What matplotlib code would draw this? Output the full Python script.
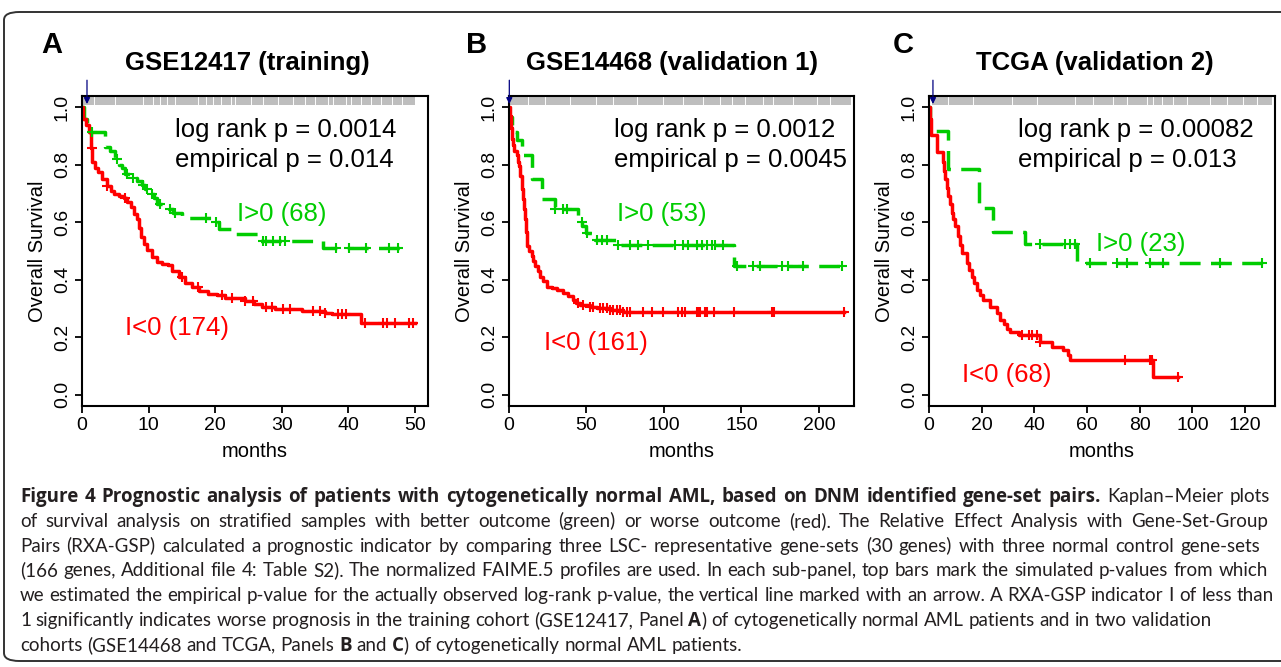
import numpy as np
import matplotlib
matplotlib.use('Agg')
import matplotlib.pyplot as plt
from matplotlib.patches import FancyBboxPatch

plt.rcParams['font.family'] = ['Liberation Sans', 'DejaVu Sans']

# ---- data ----
titles = ['GSE12417 (training)', 'GSE14468 (validation 1)', 'TCGA (validation 2)']
letters = ['A', 'B', 'C']
logrank_p = ['0.0014', '0.0012', '0.00082']
empirical_p = ['0.014', '0.0045', '0.013']
n_good = [68, 53, 23]
n_bad = [174, 161, 68]
xticks = [[0, 10, 20, 30, 40, 50], [0, 50, 100, 150, 200], [0, 20, 40, 60, 80, 100, 120]]
yticks = [0.0, 0.2, 0.4, 0.6, 0.8, 1.0]
observed_t = [0.75, 0.2, 1.5]   # where the arrow points (months)

# panel A  (GSE12417)
a_red_t = [0, 0.2, 0.6, 1.0, 1.3, 1.5, 2.0, 2.4, 3.0, 3.7, 4.3, 4.8, 5.5, 6.3, 6.8, 7.3, 7.8,
           8.2, 8.5, 8.8, 9.3, 9.8, 10.5, 11.2, 12.0, 12.9, 13.5, 14.6, 15.5, 16.5, 17.6,
           19.0, 20.3, 21.5, 24.5, 25.8, 27.0, 29.0, 33.0, 36.5, 37.5, 41.9, 50.0]
a_red_s = [1.0, 0.96, 0.94, 0.915, 0.86, 0.81, 0.79, 0.775, 0.75, 0.727, 0.71, 0.70, 0.69,
           0.685, 0.67, 0.655, 0.63, 0.61, 0.58, 0.55, 0.525, 0.505, 0.48, 0.46, 0.455, 0.45,
           0.43, 0.41, 0.39, 0.375, 0.36, 0.35, 0.345, 0.335, 0.325, 0.315, 0.305, 0.298,
           0.292, 0.285, 0.28, 0.25, 0.25]
a_red_cens = [1.45, 3.7, 6.5, 15.0, 17.5, 21.0, 22.5, 24.5, 25.7, 27.7, 28.5, 30.2, 31.2, 34.7,
              35.7, 36.5, 38.5, 39.0, 39.7, 42.5, 45.2, 45.8, 47.0, 49.2, 49.7]
a_grn_t = [0, 0.3, 0.7, 3.45, 4.2, 4.9, 5.5, 6.0, 6.5, 7.5, 8.2, 9.0, 9.5, 10.3, 10.8, 11.3,
           13.0, 13.7, 15.0, 20.0, 20.6, 23.2, 26.5, 36.2, 48.0]
a_grn_s = [1.0, 0.96, 0.915, 0.862, 0.85, 0.82, 0.80, 0.79, 0.768, 0.755, 0.745, 0.73, 0.716,
           0.70, 0.686, 0.663, 0.645, 0.634, 0.616, 0.60, 0.575, 0.558, 0.535, 0.511, 0.511]
a_grn_cens = [1.45, 5.2, 6.7, 7.7, 9.2, 9.7, 10.5, 11.7, 13.2, 14.0, 18.7, 20.2, 27.2, 27.7,
              28.7, 29.7, 30.5, 38.2, 40.2, 42.7, 46.2, 47.5]
a_gaps = [0.035, 0.10, 0.184, 0.214, 0.234, 0.254, 0.279, 0.349, 0.374, 0.394, 0.419, 0.449,
          0.459, 0.509, 0.544, 0.589, 0.634, 0.669, 0.699, 0.738, 0.753, 0.793, 0.808, 0.838,
          0.868, 0.898, 0.933, 0.963]

# panel B  (GSE14468)
b_red_t = [0, 0.6, 1.0, 1.7, 2.4, 3.5, 5.0, 6.0, 6.6, 7.4, 8.2, 9.0, 9.6, 10.3, 11.0, 11.8,
           13.0, 14.6, 15.5, 16.8, 18.5, 20.0, 22.0, 24.3, 27.5, 30.8, 35.0, 38.0, 41.5, 43.5,
           45.8, 52.0, 56.6, 65.0, 73.7, 76.0, 215.9]
b_red_s = [1.0, 0.97, 0.93, 0.89, 0.868, 0.85, 0.833, 0.81, 0.797, 0.76, 0.716, 0.68, 0.645,
           0.61, 0.565, 0.517, 0.50, 0.482, 0.465, 0.447, 0.43, 0.411, 0.395, 0.376, 0.37,
           0.365, 0.353, 0.343, 0.33, 0.32, 0.312, 0.305, 0.30, 0.295, 0.289, 0.286, 0.286]
b_red_cens = [44.7, 47.9, 52.2, 54.4, 58.7, 60.9, 63.0, 65.2, 67.3, 69.5, 71.6, 73.8, 75.9,
              78.1, 86.7, 92.1, 99.6, 109.3, 111.5, 113.7, 121.2, 122.3, 123.4, 126.6, 127.7,
              132.0, 144.9, 169.7, 170.8, 215.9]
b_grn_t = [0, 0.3, 2.0, 2.8, 5.0, 8.2, 14.6, 21.1, 29.6, 44.7, 47.0, 50.0, 55.5, 69.5, 145.2,
           215.9]
b_grn_s = [1.0, 0.967, 0.94, 0.915, 0.886, 0.833, 0.751, 0.68, 0.646, 0.60, 0.587, 0.563,
           0.54, 0.52, 0.447, 0.447]
b_grn_cens = [29.7, 35.0, 37.2, 46.9, 50.1, 56.6, 59.8, 63.0, 70.5, 78.1, 83.4, 89.9, 107.1,
              112.5, 115.7, 121.1, 124.3, 127.5, 130.8, 132.9, 138.3, 146.9, 157.6, 161.9,
              175.9, 180.2, 189.9, 214.6]
b_gaps = [0.054, 0.103, 0.176, 0.254, 0.303, 0.372, 0.45, 0.509, 0.567, 0.616, 0.651, 0.69,
          0.744, 0.773, 0.832, 0.9, 0.939]

# panel C  (TCGA)
c_red_t = [0, 0.3, 0.6, 2.9, 5.4, 5.8, 6.1, 6.7, 7.3, 8.0, 8.6, 9.3, 9.9, 11.1, 11.8, 12.4,
           14.3, 15.2, 16.2, 17.2, 18.1, 19.5, 20.6, 23.2, 25.7, 27.0, 28.3, 29.5, 30.8, 34.0,
           42.2, 46.6, 51.0, 52.9, 53.6, 85.2, 94.7]
c_red_s = [1.0, 0.96, 0.903, 0.844, 0.809, 0.78, 0.75, 0.72, 0.692, 0.663, 0.634, 0.61, 0.587,
           0.552, 0.52, 0.493, 0.458, 0.435, 0.411, 0.388, 0.365, 0.347, 0.33, 0.306, 0.283,
           0.26, 0.245, 0.23, 0.219, 0.207, 0.184, 0.166, 0.154, 0.137, 0.12, 0.06, 0.06]
c_red_cens = [35.2, 37.8, 39.0, 40.9, 42.2, 74.4, 83.9, 84.6, 94.7]
c_grn_t = [0, 0.4, 7.4, 18.8, 24.4, 36.5, 56.1, 127.0]
c_grn_s = [1.0, 0.917, 0.786, 0.651, 0.566, 0.523, 0.458, 0.458]
c_grn_cens = [42.2, 51.7, 53.6, 55.4, 61.1, 71.3, 75.1, 83.9, 89.0, 110.5, 126.4]
c_gaps = [0.049, 0.122, 0.235, 0.308, 0.421, 0.474, 0.533, 0.572, 0.631, 0.65, 0.675, 0.709,
          0.748, 0.817, 0.866, 0.915, 0.954]

panels = [
    (a_red_t, a_red_s, a_red_cens, a_grn_t, a_grn_s, a_grn_cens, a_gaps),
    (b_red_t, b_red_s, b_red_cens, b_grn_t, b_grn_s, b_grn_cens, b_gaps),
    (c_red_t, c_red_s, c_red_cens, c_grn_t, c_grn_s, c_grn_cens, c_gaps),
]

caption = [
    [('Figure 4 Prognostic analysis of patients with cytogenetically normal AML, based on DNM identified gene-set pairs.', 'bold'),
     (' Kaplan–Meier plots', 'normal')],
    [('of survival analysis on stratified samples with better outcome (green) or worse outcome (red). The Relative Effect Analysis with Gene-Set-Group', 'normal')],
    [('Pairs (RXA-GSP) calculated a prognostic indicator by comparing three LSC- representative gene-sets (30 genes) with three normal control gene-sets', 'normal')],
    [('(166 genes, Additional file 4: Table S2). The normalized FAIME.5 profiles are used. In each sub-panel, top bars mark the simulated p-values from which', 'normal')],
    [('we estimated the empirical p-value for the actually observed log-rank p-value, the vertical line marked with an arrow. A RXA-GSP indicator I of less than', 'normal')],
    [('1 significantly indicates worse prognosis in the training cohort (GSE12417, Panel ', 'normal'), ('A', 'bold'),
     (') of cytogenetically normal AML patients and in two validation', 'normal')],
    [('cohorts (GSE14468 and TCGA, Panels ', 'normal'), ('B', 'bold'), (' and ', 'normal'), ('C', 'bold'),
     (') of cytogenetically normal AML patients.', 'normal')],
]

# ---- layout (pixels of the 1281x667 picture) ----
W, H = 1281, 667
RED, GREEN, GRAY, NAVY = '#ff0000', '#00cc00', '#bebebe', '#000080'
ax_rects = [(82, 428), (509, 854), (929, 1275)]
ax_top, ax_bot = 96, 406
xlims = [(0, 52), (0, 222.6), (0, 131.4)]
band = [(0, 50), (0.6, 220.5), (1.0, 130.4)]
title_x = [247, 672, 1095]
letter_x = [52, 477, 903]
text_x = [0.269, 0.304, 0.257]
good_lab = [(23.3, 0.628), (69.7, 0.628), (63.4, 0.526)]
bad_lab = [(6.5, 0.23), (22.6, 0.18), (12.5, 0.067)]
line_right = [1270, 1268, 1260, 1268, 1274, None, None]   # justified lines end here

fig = plt.figure(figsize=(W / 100, H / 100), dpi=100)

# rounded frame around the whole figure
frame = FancyBboxPatch((4 / W, 6 / H), 1.2, (661 - 12) / H,
                       boxstyle='round,pad=0,rounding_size=0.012',
                       transform=fig.transFigure, fill=False,
                       edgecolor='#333333', linewidth=1.4)
fig.patches.append(frame)


def step_at(t, s, x):
    idx = np.searchsorted(t, x, side='right') - 1
    return np.asarray(s)[idx]


for i, (rt, rs, rc, gt, gs, gc, gaps) in enumerate(panels):
    l, r = ax_rects[i]
    ax = fig.add_axes([l / W, 1 - ax_bot / H, (r - l) / W, (ax_bot - ax_top) / H])
    ax.set_xlim(*xlims[i])
    ax.set_ylim(-0.04, 1.04)

    # simulated p-value bars on top
    b0, b1 = band[i]
    ax.fill_between([b0, b1], 1.007, 1.04, color=GRAY, lw=0)
    gx = b0 + np.array(gaps) * (b1 - b0)
    ax.vlines(gx, 1.007, 1.04, color='white', lw=0.7)
    ax.annotate('', xy=(observed_t[i], 1.012), xytext=(observed_t[i], 1.095),
                xycoords='data', annotation_clip=False,
                arrowprops=dict(arrowstyle='-|>', color=NAVY, lw=0.9,
                                mutation_scale=9, shrinkA=0, shrinkB=0))

    # Kaplan-Meier curves
    ax.step(gt, gs, where='post', color=GREEN, lw=2.5, linestyle=(0, (6, 3)))
    ax.step(rt, rs, where='post', color=RED, lw=2.5)
    ax.plot(gc, step_at(gt, gs, gc), '+', color=GREEN, ms=7, mew=1.5)
    ax.plot(rc, step_at(rt, rs, rc), '+', color=RED, ms=7, mew=1.5)

    ax.text(text_x[i], 0.89, 'log rank p = ' + logrank_p[i], transform=ax.transAxes,
            fontsize=18.5, va='center', ha='left')
    ax.text(text_x[i], 0.794, 'empirical p = ' + empirical_p[i], transform=ax.transAxes,
            fontsize=18.5, va='center', ha='left')
    ax.text(*good_lab[i], 'I>0 (%d)' % n_good[i], color=GREEN, fontsize=18.5, va='center')
    ax.text(*bad_lab[i], 'I<0 (%d)' % n_bad[i], color=RED, fontsize=18.5, va='center')

    ax.set_xticks(xticks[i])
    ax.set_yticks(yticks)
    ax.set_yticklabels(['%.1f' % v for v in yticks], rotation=90, va='center')
    ax.tick_params(labelsize=14, length=5, width=1.3, pad=3)
    for sp in ax.spines.values():
        sp.set_linewidth(1.5)
    ax.set_xlabel('months', fontsize=14.5)
    ax.set_ylabel('Overall Survival', fontsize=14.5)
    ax.xaxis.set_label_coords(0.5, -0.115)
    ax.yaxis.set_label_coords(-0.10, 0.5)

    fig.text(title_x[i] / W, 1 - 63 / H, titles[i], fontsize=18.5, fontweight='bold',
             ha='center', va='center')
    fig.text(letter_x[i] / W, 1 - 45 / H, letters[i], fontsize=21, fontweight='bold',
             ha='center', va='center')

# ---- caption (word by word so lines can be justified) ----
cap_fonts = {'normal': ['Lato', 'DejaVu Sans'], 'bold': ['Open Sans', 'Lato', 'DejaVu Sans']}
cap_size = 13.5
cap_color = '#231f20'
renderer = fig.canvas.get_renderer()


def word_width(txt, wt):
    t = fig.text(0, 0, txt, fontsize=cap_size, fontweight=wt, family=cap_fonts[wt])
    w = t.get_window_extent(renderer).width
    t.remove()
    return w


space_w = word_width('a a', 'normal') - word_width('aa', 'normal')

for k, parts in enumerate(caption):
    # split into words; glued=True means no space before the word
    words = []
    pending = False
    for txt, wt in parts:
        for j, piece in enumerate(txt.split(' ')):
            if j > 0:
                pending = True
            if piece:
                words.append((piece, wt, not pending))
                pending = False
    widths = [word_width(w, wt) for w, wt, _ in words]
    n_gaps = sum(1 for _, _, glued in words[1:] if not glued)
    gap = space_w
    if line_right[k] is not None and n_gaps:
        gap = max((line_right[k] - 20 - sum(widths)) / n_gaps, 0.5 * space_w)
    y = 1 - (502 + 24.8 * k) / H
    x = 20.0
    for j, ((w, wt, glued), ww) in enumerate(zip(words, widths)):
        if j > 0 and not glued:
            x += gap
        fig.text(x / W, y, w, fontsize=cap_size, fontweight=wt, family=cap_fonts[wt],
                 color=cap_color, ha='left', va='baseline')
        x += ww

fig.savefig('out.png', dpi=100)
